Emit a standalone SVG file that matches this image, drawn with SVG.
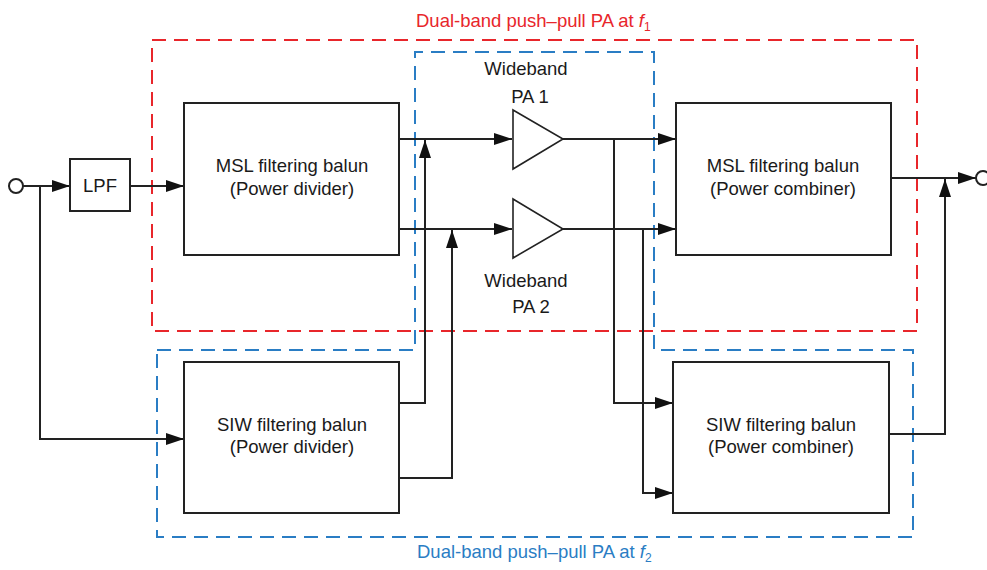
<svg xmlns="http://www.w3.org/2000/svg" width="987" height="570" viewBox="0 0 987 570">
<style>
text{font-family:"Liberation Sans",Arial,sans-serif;font-size:18.5px;fill:#1a1a1a}
.box{fill:#fff;stroke:#222;stroke-width:2}
.pa{fill:#fff;stroke:#222;stroke-width:1.6}
.wire{fill:none;stroke:#222;stroke-width:2}
.red{fill:none;stroke:#e8262b;stroke-width:2;stroke-dasharray:14 8}
.blue{fill:none;stroke:#2a7dc4;stroke-width:2;stroke-dasharray:14 8}
.mid{text-anchor:middle}
</style>
<defs>
<marker id="ah" markerUnits="userSpaceOnUse" markerWidth="18" markerHeight="12" refX="18" refY="6" orient="auto">
<path d="M0,0 L18,6 L0,12 z" fill="#111"/>
</marker>
</defs>
<g id="regions">
<rect class="red" x="152" y="40" width="765" height="291"/>
<path class="blue" d="M157,350 H415 V52 H654 V350 H913 V537 H157 Z"/>
<text x="416" y="27" style="fill:#e8262b">Dual-band push–pull PA at <tspan font-style="italic">f</tspan><tspan font-size="12" dy="4">1</tspan></text>
<text x="417" y="558" style="fill:#2a7dc4">Dual-band push–pull PA at <tspan font-style="italic">f</tspan><tspan font-size="12" dy="4">2</tspan></text>
</g>
<g id="connectors">
<path class="wire" d="M23,186 H70" marker-end="url(#ah)"/>
<path class="wire" d="M40,186 V439 H184" marker-end="url(#ah)"/>
<path class="wire" d="M130,186 H184" marker-end="url(#ah)"/>
<path class="wire" d="M399,139 H512" marker-end="url(#ah)"/>
<path class="wire" d="M399,229 H512" marker-end="url(#ah)"/>
<path class="wire" d="M399,403 H425 V140" marker-end="url(#ah)"/>
<path class="wire" d="M399,478 H452 V230" marker-end="url(#ah)"/>
<path class="wire" d="M563,139 H676" marker-end="url(#ah)"/>
<path class="wire" d="M563,229 H676" marker-end="url(#ah)"/>
<path class="wire" d="M614,139 V403 H673" marker-end="url(#ah)"/>
<path class="wire" d="M643,229 V493 H673" marker-end="url(#ah)"/>
<path class="wire" d="M891,178 H976" marker-end="url(#ah)"/>
<path class="wire" d="M889,434 H945 V179" marker-end="url(#ah)"/>
</g>
<g id="input">
<circle cx="16" cy="186" r="7" fill="#fff" stroke="#222" stroke-width="2"/>
</g>
<g id="output">
<circle cx="983" cy="178" r="7" fill="#fff" stroke="#222" stroke-width="2"/>
</g>
<g id="lpf">
<rect class="box" x="70" y="159" width="60" height="52"/>
<text class="mid" x="100" y="192">LPF</text>
</g>
<g id="msl-divider">
<rect class="box" x="184" y="103" width="215" height="152"/>
<text class="mid" x="292" y="172">MSL filtering balun</text>
<text class="mid" x="292" y="195">(Power divider)</text>
</g>
<g id="msl-combiner">
<rect class="box" x="676" y="103" width="215" height="152"/>
<text class="mid" x="783" y="172">MSL filtering balun</text>
<text class="mid" x="783" y="195">(Power combiner)</text>
</g>
<g id="siw-divider">
<rect class="box" x="184" y="362" width="215" height="151"/>
<text class="mid" x="292" y="431">SIW filtering balun</text>
<text class="mid" x="292" y="453">(Power divider)</text>
</g>
<g id="siw-combiner">
<rect class="box" x="673" y="362" width="216" height="151"/>
<text class="mid" x="781" y="431">SIW filtering balun</text>
<text class="mid" x="781" y="453">(Power combiner)</text>
</g>
<g id="pa1">
<path class="pa" d="M513,110 L563,139 L513,169 Z"/>
<text class="mid" x="526" y="75">Wideband</text>
<text class="mid" x="530" y="103">PA 1</text>
</g>
<g id="pa2">
<path class="pa" d="M513,199 L563,229 L513,258 Z"/>
<text class="mid" x="526" y="287">Wideband</text>
<text class="mid" x="531" y="313">PA 2</text>
</g>
</svg>
